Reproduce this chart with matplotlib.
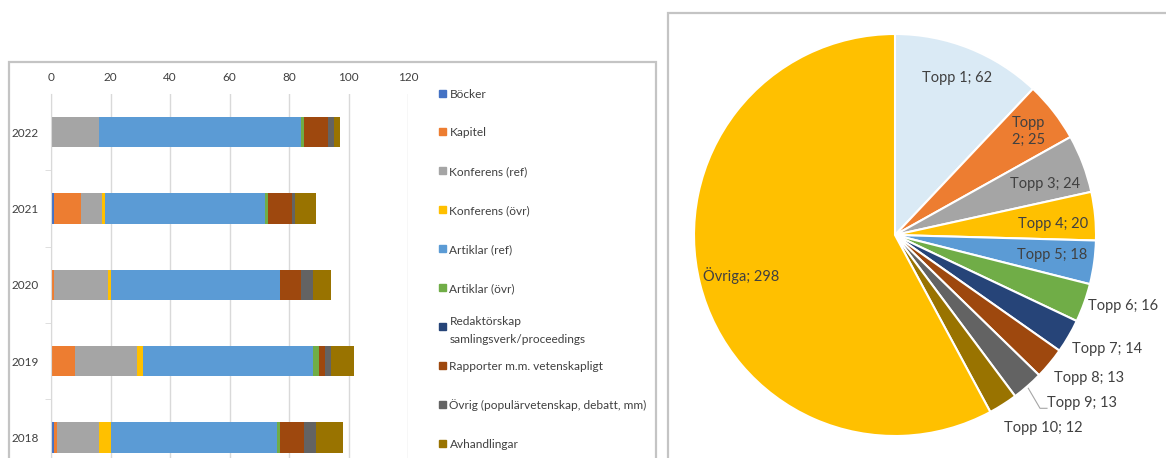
import numpy as np
import matplotlib.pyplot as plt
from matplotlib.patches import Rectangle

plt.rcParams['font.family'] = ['Lato', 'DejaVu Sans']

# bar chart data (publications per year and type)
years = ["2022", "2021", "2020", "2019", "2018"]
categories = ["Böcker", "Kapitel", "Konferens (ref)", "Konferens (övr)", "Artiklar (ref)",
              "Artiklar (övr)", "Redaktörskap\nsamlingsverk/proceedings",
              "Rapporter m.m. vetenskapligt", "Övrig (populärvetenskap, debatt, mm)",
              "Avhandlingar"]
bocker = [0, 1, 0, 0, 1]
kapitel = [0, 9, 1, 8, 1]
konf_ref = [16, 7, 18, 21, 14]
konf_ovr = [0, 1, 1, 2, 4]
art_ref = [68, 54, 57, 57, 56]
art_ovr = [1, 1, 0, 2, 1]
redaktor = [0, 0, 0, 0, 0]
rapporter = [8, 8, 7, 2, 8]
ovrig = [2, 1, 4, 2, 4]
avhandl = [2, 7, 6, 8, 9]
series = [bocker, kapitel, konf_ref, konf_ovr, art_ref, art_ovr, redaktor, rapporter, ovrig, avhandl]
colors = ["#4472C4", "#ED7D31", "#A5A5A5", "#FFC000", "#5B9BD5",
          "#70AD47", "#264478", "#9E480E", "#636363", "#997300"]

# pie chart data
pie_labels = ["Topp 1", "Topp 2", "Topp 3", "Topp 4", "Topp 5", "Topp 6",
              "Topp 7", "Topp 8", "Topp 9", "Topp 10", "Övriga"]
pie_values = [62, 25, 24, 20, 18, 16, 14, 13, 13, 12, 298]
pie_colors = ["#DAEAF5", "#ED7D31", "#A5A5A5", "#FFC000", "#5B9BD5", "#70AD47",
              "#264478", "#9E480E", "#636363", "#997300", "#FFC000"]

TXT = "#404040"
W, H = 1166, 458
fig = plt.figure(figsize=(W / 100, H / 100), dpi=100)

# panel frames
fig.patches.append(Rectangle((8.5 / W, -0.1), (656 - 8.5) / W, (H - 61.5) / H + 0.1,
                             transform=fig.transFigure, fill=False, ec="#C4C4C4", lw=1.6))
fig.patches.append(Rectangle((667.5 / W, -0.1), 0.5, (H - 13.5) / H + 0.1,
                             transform=fig.transFigure, fill=False, ec="#C4C4C4", lw=1.6))

# stacked bar chart
ax = fig.add_axes([51 / W, 0, (408 - 51) / W, (H - 94) / H])
y = np.arange(len(years))
left = np.zeros(len(years))
for vals, col, name in zip(series, colors, categories):
    ax.barh(y, vals, left=left, height=0.4, color=col, label=name)
    left += np.array(vals)

ax.set_xlim(0, 120)
ax.set_ylim(4.27, -0.5)
ax.set_xticks(range(0, 121, 20))
ax.xaxis.tick_top()
ax.set_yticks(y)
ax.set_yticklabels(years)
ax.set_yticks(np.arange(0.5, 4.5, 1), minor=True)
ax.tick_params(axis="y", which="major", length=0, pad=9, labelsize=8.5, labelcolor=TXT)
ax.tick_params(axis="y", which="minor", length=4, color="#D9D9D9", direction="out")
ax.tick_params(axis="x", length=0, pad=8, labelsize=8.5, labelcolor=TXT)
ax.grid(axis="x", color="#D9D9D9", lw=1)
ax.set_axisbelow(True)
for s in ["top", "right", "bottom"]:
    ax.spines[s].set_visible(False)
ax.spines["left"].set_color("#D9D9D9")

# legend, Excel style: square key aligned with the first line of each entry
for i, (name, col) in enumerate(zip(categories, colors)):
    yc = H - (93 + 38.9 * i)
    fig.patches.append(Rectangle((438.5 / W, (yc - 3.5) / H), 7 / W, 7 / H,
                                 transform=fig.transFigure, color=col))
    fig.text(449.5 / W, yc / H, name, ha="left", va="center_baseline", fontsize=8.6,
             color=TXT, linespacing=1.7)

# pie chart
R = 201
cx, cy = 895, H - 235
pax = fig.add_axes([(cx - R) / W, (cy - R) / H, 2 * R / W, 2 * R / H])
wedges, _ = pax.pie(pie_values, colors=pie_colors, startangle=90, counterclock=False,
                    wedgeprops=dict(edgecolor="white", linewidth=1.5))
pax.set_xlim(-1, 1)
pax.set_ylim(-1, 1)
pax.set_aspect("equal")

# label placement: radius factor and angle shift per slice
lab_r = [0.84, 0.84, 0.79, 0.79, 0.79, 1.19, 1.2, 1.2, 1.25, 1.21, 0.79]
lab_da = [0, 0, -2, -1.5, 0.7, 2.6, 2, 3.2, 6.9, 5.1, 0.5]
for i, (w, lab, v) in enumerate(zip(wedges, pie_labels, pie_values)):
    ang = np.deg2rad((w.theta1 + w.theta2) / 2 + lab_da[i])
    txt = f"{lab}; {v}"
    if i == 1:
        txt = txt.replace(" ", "\n", 1)
    pax.text(lab_r[i] * np.cos(ang), lab_r[i] * np.sin(ang), txt, ha="center", va="center",
             fontsize=10.5, color=TXT, linespacing=1.3)

# leader line for Topp 9
pax.plot([(1028.3 - cx) / R, (1040 - cx) / R, (1047 - cx) / R],
         [(235 - 388.3) / R, (235 - 408.3) / R, (235 - 408.3) / R],
         color="#A6A6A6", lw=0.8, clip_on=False)

fig.savefig("out.png", dpi=100)
